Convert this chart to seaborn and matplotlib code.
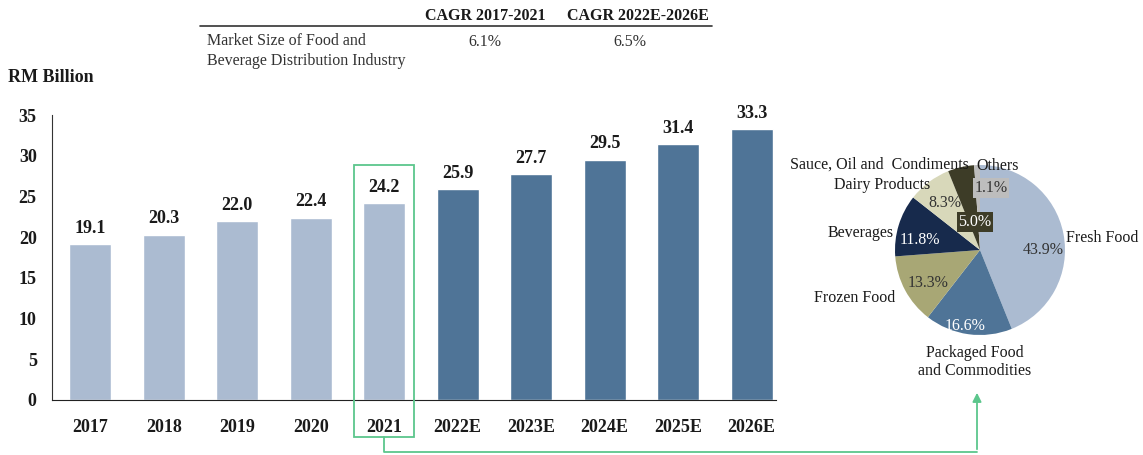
import matplotlib
matplotlib.use("Agg")
import matplotlib.pyplot as plt
import seaborn as sns
import pandas as pd
from matplotlib.patches import Rectangle, FancyArrowPatch
from matplotlib.lines import Line2D

# -------------------------------
# Data
# -------------------------------
years = ["2017", "2018", "2019", "2020", "2021", "2022E", "2023E", "2024E", "2025E", "2026E"]
market_size = [19.1, 20.3, 22.0, 22.4, 24.2, 25.9, 27.7, 29.5, 31.4, 33.3]
phase = ["hist"] * 5 + ["fcst"] * 5

segments = ["Fresh Food", "Packaged Food\nand Commodities", "Frozen Food", "Beverages",
            "Dairy Products", "Sauce, Oil and  Condiments", "Others"]
shares = [43.9, 16.6, 13.3, 11.8, 8.3, 5.0, 1.1]

cagr_headers = ["CAGR 2017-2021", "CAGR 2022E-2026E"]
cagr_values = ["6.1%", "6.5%"]
cagr_row = "Market Size of Food and\nBeverage Distribution Industry"

LIGHT = "#abbbd1"
DARK = "#4f7497"
GREEN = "#5cc68c"
pie_colors = ["#abbbd1", "#4f7497", "#a8a775", "#172a4c", "#d8d8ba", "#3d3c27", "#bdbdbd"]

sns.set_style("white")
plt.rcParams["font.family"] = ["Liberation Serif", "DejaVu Serif"]

fig = plt.figure(figsize=(11.43, 4.55), dpi=100)
W, H = 1143, 455

def fx(px):
    return px / W

def fy(py):
    return 1 - py / H

# -------------------------------
# Bar chart
# -------------------------------
ax = fig.add_axes([fx(52), fy(400), fx(724), 285 / H])
df = pd.DataFrame({"year": years, "value": market_size, "phase": phase})
sns.barplot(data=df, x="year", y="value", hue="phase",
            palette={"hist": LIGHT, "fcst": DARK}, width=0.57, dodge=False,
            legend=False, ax=ax, saturation=1)
ax.set_xlim(-0.52, 9.33)
ax.set_ylim(0, 35)
ax.set_yticks(range(0, 36, 5))
ax.set_xlabel("")
ax.set_ylabel("")
for s in ["top", "right"]:
    ax.spines[s].set_visible(False)
ax.spines["left"].set_color("#333333")
ax.spines["bottom"].set_color("#222222")
ax.tick_params(axis="y", direction="out", length=5, width=1, color="#333333",
               labelsize=13, pad=6)
ax.tick_params(axis="x", length=0, labelsize=13, pad=14)
for lab in ax.get_xticklabels() + ax.get_yticklabels():
    lab.set_fontweight("bold")
    lab.set_color("#1a1a1a")

for i, v in enumerate(market_size):
    ax.text(i, v + 0.9, f"{v:.1f}", ha="center", va="bottom",
            fontsize=13, fontweight="bold", color="#1a1a1a")

fig.text(fx(8), fy(78), "RM Billion", fontsize=13, fontweight="bold",
         ha="left", va="center", color="#1a1a1a")

# -------------------------------
# CAGR table
# -------------------------------
fig.add_artist(Line2D([fx(200), fx(712)], [fy(26), fy(26)], color="#333333", lw=1.2))
for x, h in zip([485, 638], cagr_headers):
    fig.text(fx(x), fy(16), h, ha="center", va="center", fontsize=11.5,
             fontweight="bold", color="#1a1a1a")
for x, v in zip([485, 630], cagr_values):
    fig.text(fx(x), fy(42), v, ha="center", va="center", fontsize=11.5, color="#333333")
fig.text(fx(207), fy(51), cagr_row, ha="left", va="center", fontsize=11.5,
         color="#333333", linespacing=1.4)

# -------------------------------
# Pie chart
# -------------------------------
R = 85
pax = fig.add_axes([fx(980 - 1.6 * R), fy(250 + 1.6 * R), fx(3.2 * R), 3.2 * R / H])
pax.pie(shares, colors=pie_colors, startangle=90, counterclock=False, radius=1,
        wedgeprops=dict(linewidth=0))
pax.set_xlim(-1.6, 1.6)
pax.set_ylim(-1.6, 1.6)
pax.set_aspect("equal")
pax.axis("off")

pct_pos = [(0.74, 0.0), (-0.18, -0.89), (-0.61, -0.39), (-0.71, 0.12),
           (-0.41, 0.55), (-0.06, 0.33), (0.13, 0.73)]
pct_color = ["#333333", "white", "#333333", "white", "#333333", "white", "#333333"]
pct_box = [None, None, None, None, None, "#3d3c27", "#bdbdbd"]
for (x, y), s, c, b in zip(pct_pos, shares, pct_color, pct_box):
    kw = {}
    if b:
        kw["bbox"] = dict(boxstyle="square,pad=0.1", fc=b, ec="none")
    pax.text(x, y, f"{s:.1f}%", ha="center", va="center", fontsize=11.5, color=c, **kw)

lab_pos = [(1.01, 0.14, "left"), (-0.06, -1.32, "center"), (-1.0, -0.56, "right"),
           (-1.02, 0.2, "right"), (-0.59, 0.77, "right"), (-0.13, 1.01, "right"),
           (0.21, 0.99, "center")]
for (x, y, ha), name in zip(lab_pos, segments):
    pax.text(x, y, name, ha=ha, va="center", fontsize=11.5, color="#1a1a1a",
             linespacing=1.15)

# -------------------------------
# Highlight box and connector
# -------------------------------
fig.add_artist(Rectangle((fx(354), fy(437)), fx(60), 272 / H, fill=False,
                         ec=GREEN, lw=1.3))
fig.add_artist(Line2D([fx(384), fx(384), fx(977)], [fy(437), fy(452), fy(452)],
                      color=GREEN, lw=1.3))
fig.add_artist(FancyArrowPatch((fx(977), fy(452)), (fx(977), fy(390)),
                               transform=fig.transFigure, arrowstyle="-|>",
                               mutation_scale=13, color=GREEN, lw=1.3))

plt.savefig("out.png", dpi=100)
